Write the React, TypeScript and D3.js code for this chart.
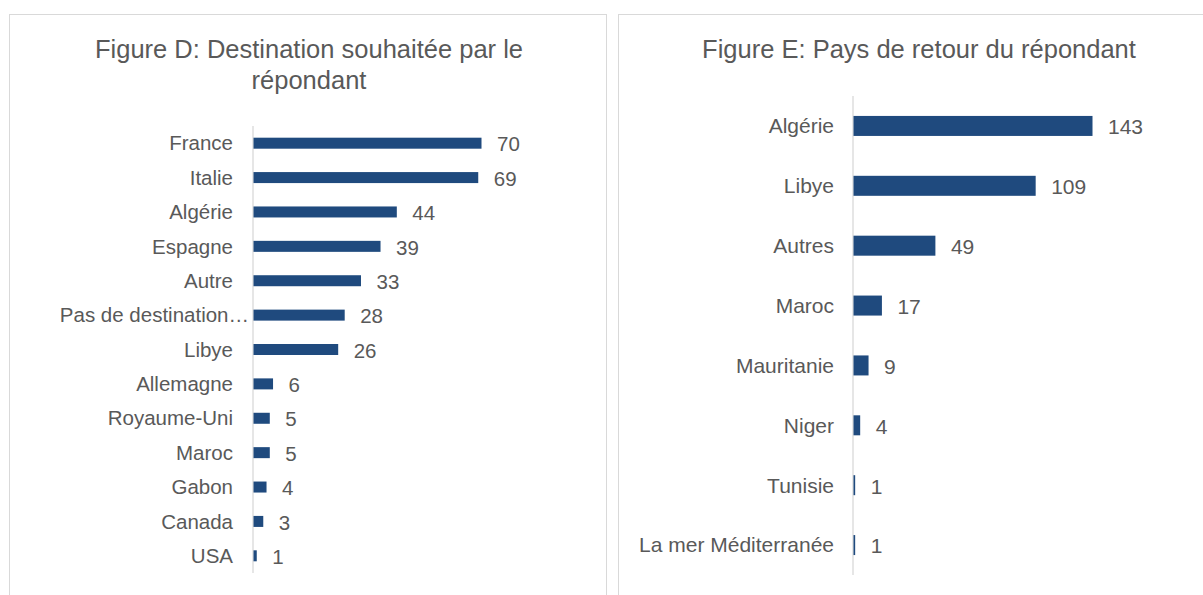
import React, { useEffect, useRef } from 'react';
import * as d3 from 'd3';

// Figure D
const destLabels = ["France", "Italie", "Algérie", "Espagne", "Autre", "Pas de destination…", "Libye", "Allemagne", "Royaume-Uni", "Maroc", "Gabon", "Canada", "USA"];
const destValues = [70, 69, 44, 39, 33, 28, 26, 6, 5, 5, 4, 3, 1];

// Figure E
const retourLabels = ["Algérie", "Libye", "Autres", "Maroc", "Mauritanie", "Niger", "Tunisie", "La mer Méditerranée"];
const retourValues = [143, 109, 49, 17, 9, 4, 1, 1];

const W = 1203;
const H = 595;
const barColor = "#1F4A7E";
const textColor = "#595959";
const font = "'Liberation Sans', Arial, sans-serif";

type Opts = {
    labels: string[];
    values: number[];
    x0: number;
    x1: number;
    y0: number;
    y1: number;
    barH: number;
    labelGap: number;
    fontSize: number;
};

function drawBars(svg: d3.Selection<SVGSVGElement, unknown, null, undefined>, o: Opts) {
    const data = o.labels.map((l, i) => ({ label: l, value: o.values[i] }));

    const xScale = d3.scaleLinear()
        .domain([0, d3.max(o.values) as number])
        .range([o.x0, o.x1]);

    const yScale = d3.scaleBand()
        .domain(o.labels)
        .range([o.y0, o.y1]);

    const mid = (d: { label: string }) => (yScale(d.label) as number) + yScale.bandwidth() / 2;

    const g = svg.append("g");

    // category axis line
    g.append("line")
        .attr("x1", o.x0)
        .attr("x2", o.x0)
        .attr("y1", o.y0)
        .attr("y2", o.y1)
        .attr("stroke", "#d9d9d9")
        .attr("stroke-width", 1.3);

    g.selectAll("rect.bar")
        .data(data)
        .enter()
        .append("rect")
        .attr("class", "bar")
        .attr("x", o.x0 + 0.5)
        .attr("y", d => mid(d) - o.barH / 2)
        .attr("width", d => xScale(d.value) - o.x0)
        .attr("height", o.barH)
        .attr("fill", barColor);

    // truncated labels run right up to the axis, like in Excel
    g.selectAll("text.cat")
        .data(data)
        .enter()
        .append("text")
        .attr("class", "cat")
        .attr("x", d => o.x0 - (d.label.endsWith("…") ? 4 : o.labelGap))
        .attr("y", mid)
        .attr("dy", "0.35em")
        .attr("text-anchor", "end")
        .attr("fill", textColor)
        .style("font-size", o.fontSize + "px")
        .text(d => d.label);

    g.selectAll("text.val")
        .data(data)
        .enter()
        .append("text")
        .attr("class", "val")
        .attr("x", d => xScale(d.value) + 16)
        .attr("y", d => mid(d) + 1)
        .attr("dy", "0.35em")
        .attr("fill", textColor)
        .style("font-size", o.fontSize + "px")
        .text(d => d.value);
}

export default function App() {
    const ref = useRef<SVGSVGElement>(null);

    useEffect(() => {
        const svg = d3.select(ref.current as SVGSVGElement);
        svg.selectAll("*").remove();
        svg.style("font-family", font);

        // panel frames
        svg.append("rect")
            .attr("x", 9.5).attr("y", 14.5)
            .attr("width", 597).attr("height", 600)
            .attr("fill", "white").attr("stroke", "#d9d9d9");
        svg.append("rect")
            .attr("x", 618.5).attr("y", 14.5)
            .attr("width", 600).attr("height", 600)
            .attr("fill", "white").attr("stroke", "#d9d9d9");

        // titles
        const titleSize = 25.5;
        const t = svg.append("text")
            .attr("text-anchor", "middle")
            .attr("fill", textColor)
            .style("font-size", titleSize + "px");
        t.append("tspan").attr("x", 309).attr("y", 58).text("Figure D: Destination souhaitée par le");
        t.append("tspan").attr("x", 309).attr("y", 89).text("répondant");

        svg.append("text")
            .attr("x", 919)
            .attr("y", 58)
            .attr("text-anchor", "middle")
            .attr("fill", textColor)
            .style("font-size", titleSize + "px")
            .text("Figure E: Pays de retour du répondant");

        drawBars(svg, {
            labels: destLabels, values: destValues,
            x0: 253, x1: 481, y0: 126, y1: 573,
            barH: 11, labelGap: 20, fontSize: 20.5,
        });

        drawBars(svg, {
            labels: retourLabels, values: retourValues,
            x0: 853, x1: 1092, y0: 96, y1: 575,
            barH: 20, labelGap: 19, fontSize: 21,
        });
    }, []);

    return (
        <div style={{ position: "absolute", left: 0, top: 0 }}>
            <svg ref={ref} width={W} height={H} style={{ display: "block" }}></svg>
        </div>
    );
}
